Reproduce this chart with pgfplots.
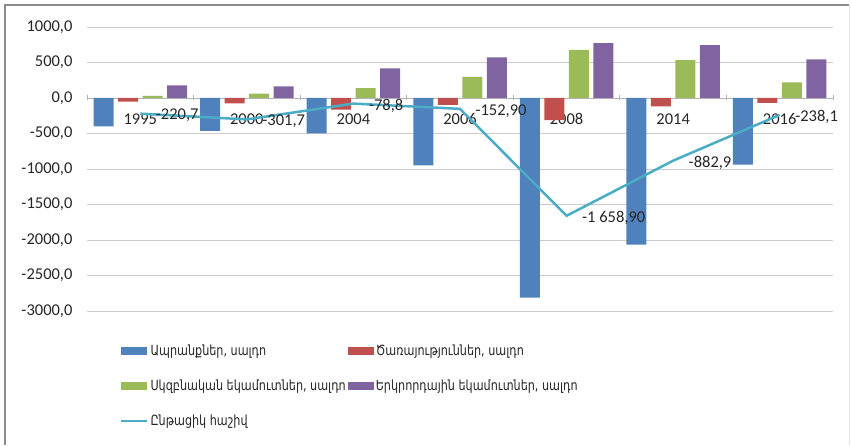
\documentclass[border=0pt]{standalone}
\usepackage{fontspec}
\setmainfont{Carlito}
\newfontfamily\armfont[FakeStretch=0.80]{DejaVu Sans}
\usepackage{pgfplots}
\pgfplotsset{compat=1.18}

\definecolor{cblue}{HTML}{4F81BD}
\definecolor{cred}{HTML}{C0504D}
\definecolor{cgreen}{HTML}{9BBB59}
\definecolor{cpurple}{HTML}{8064A2}
\definecolor{ccyan}{HTML}{4BACC6}

\begin{document}
\begin{tikzpicture}
\path (-87pt,-134pt) rectangle (764pt,311pt);
\begin{axis}[
    at={(0,0)}, anchor=south west,
    scale only axis, width=746pt, height=284pt,
    xmin=-0.5, xmax=6.5, ymin=-3000, ymax=1000,
    axis x line=middle, axis y line=left,
    x axis line style={-, draw=gray!60, line width=0.8pt},
    y axis line style={draw=none},
    ytick={-3000,-2500,...,1000},
    yticklabels={{-3000,0},{-2500,0},{-2000,0},{-1500,0},{-1000,0},{-500,0},{0,0},{500,0},{1000,0}},
    ymajorgrids, grid style={gray!40, line width=0.8pt},
    major tick length=0pt,
    xtick={0,...,6},
    xticklabels={1995,2000,2004,2006,2008,2014,2016},
    minor xtick={-0.5,0.5,...,6.5},
    minor tick length=5pt,
    minor tick style={gray!60, line width=0.8pt},
    tick label style={font=\fontsize{16.5}{18}\selectfont, text=black!85},
    yticklabel style={xshift=-11pt},
    xticklabel style={yshift=-12pt},
    legend columns=2,
    legend cell align=left,
    legend style={at={(0.04,-0.103)}, anchor=north west, draw=none, fill=none,
        font=\armfont\fontsize{14}{16}\selectfont, text=black!85,
        row sep=19pt,
        /tikz/every even column/.append style={column sep=0pt}},
]
\addplot[ybar, bar width=20pt, bar shift=-36.75pt, fill=cblue, draw=none,
    legend image code/.code={\fill[cblue] (0pt,-4pt) rectangle (26pt,4pt);}]
    coordinates {(0,-400) (1,-464) (2,-498) (3,-949) (4,-2812) (5,-2065) (6,-939)};
\addplot[ybar, bar width=20pt, bar shift=-12.25pt, fill=cred, draw=none,
    legend image code/.code={\fill[cred] (0pt,-4pt) rectangle (26pt,4pt);}]
    coordinates {(0,-50) (1,-75) (2,-165) (3,-98) (4,-310) (5,-117) (6,-70)};
\addplot[ybar, bar width=20pt, bar shift=12.25pt, fill=cgreen, draw=none,
    legend image code/.code={\fill[cgreen] (0pt,-4pt) rectangle (26pt,4pt);}]
    coordinates {(0,30) (1,60) (2,140) (3,296) (4,676) (5,535) (6,220)};
\addplot[ybar, bar width=20pt, bar shift=36.75pt, fill=cpurple, draw=none,
    legend image code/.code={\fill[cpurple] (0pt,-4pt) rectangle (26pt,4pt);}]
    coordinates {(0,178) (1,163) (2,417) (3,572) (4,774) (5,746) (6,544)};
\addplot[ccyan, line width=2.5pt, sharp plot, mark=none,
    point meta=explicit symbolic,
    nodes near coords={\pgfplotspointmeta},
    nodes near coords style={anchor=west, xshift=11pt, yshift=-2pt,
        font=\fontsize{16.5}{18}\selectfont, text=black!85},
    legend image code/.code={\draw[ccyan, line width=2.5pt] (0pt,0pt) -- (26pt,0pt);}]
    coordinates {(0,-220.7) [{-220,7}] (1,-301.7) [{-301,7}] (2,-78.8) [{-78,8}]
        (3,-152.9) [{-152,90}] (4,-1658.9) [{-1 658,90}] (5,-882.9) [{-882,9}]
        (6,-238.1) [{-238,1}]};
\legend{{Ապրանքներ, սալդո}, {Ծառայություններ, սալդո},
    {Սկզբնական եկամուտներ, սալդո}, {Երկրորդային եկամուտներ, սալդո},
    {Ընթացիկ հաշիվ}}
\end{axis}
\draw[gray!90, line width=1.5pt] (-82pt,-134pt) -- (-82pt,306pt) -- (762pt,306pt);
\draw[gray!20, line width=1pt] (762pt,306pt) -- (762pt,-134pt);
\end{tikzpicture}
\end{document}
